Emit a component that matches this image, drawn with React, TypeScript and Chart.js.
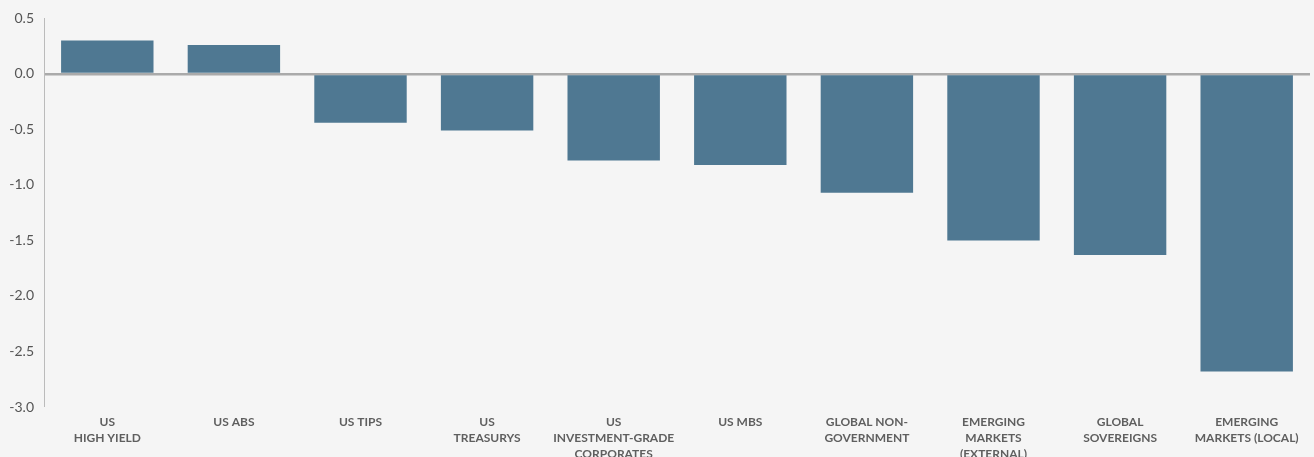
import React, { useEffect, useRef } from "react";
import { Chart, registerables } from "chart.js";

Chart.register(...registerables);

const categories: string[][] = [
  ["US", "HIGH YIELD"],
  ["US ABS"],
  ["US TIPS"],
  ["US", "TREASURYS"],
  ["US", "INVESTMENT-GRADE", "CORPORATES"],
  ["US MBS"],
  ["GLOBAL NON-", "GOVERNMENT"],
  ["EMERGING", "MARKETS", "(EXTERNAL)"],
  ["GLOBAL", "SOVEREIGNS"],
  ["EMERGING", "MARKETS (LOCAL)"],
];

const values: number[] = [0.3, 0.26, -0.44, -0.51, -0.78, -0.82, -1.07, -1.5, -1.63, -2.68];

const yMin = -3.0;
const yMax = 0.5;
const yStep = 0.5;

export default function App() {
  const ref = useRef<HTMLCanvasElement | null>(null);

  useEffect(() => {
    if (!ref.current) return;
    const chart = new Chart(ref.current, {
      type: "bar",
      data: {
        labels: categories,
        datasets: [
          {
            data: values,
            backgroundColor: "#4f7892",
            borderWidth: 0,
            barPercentage: 0.73,
            categoryPercentage: 1,
          },
        ],
      },
      options: {
        animation: false,
        responsive: false,
        maintainAspectRatio: false,
        layout: { padding: { top: 18, right: 4, left: 0, bottom: 0 } },
        plugins: {
          legend: { display: false },
          tooltip: { enabled: false },
        },
        scales: {
          x: {
            grid: { display: false, drawTicks: false },
            border: { display: false },
            ticks: {
              color: "#5f5f5f",
              font: { family: "Lato", size: 12, weight: "bold", lineHeight: 1.33 },
              padding: 7,
              maxRotation: 0,
              autoSkip: false,
            },
            afterFit: (scale: any) => {
              scale.height = 50;
            },
          },
          y: {
            min: yMin,
            max: yMax,
            ticks: {
              stepSize: yStep,
              color: "#555",
              font: { family: "Lato", size: 14 },
              padding: 10,
              callback: (v: any) => Number(v).toFixed(1),
            },
            grid: {
              drawTicks: false,
              lineWidth: (ctx: any) => (ctx.tick && Math.abs(ctx.tick.value) < 1e-9 ? 2.5 : 0),
              color: (ctx: any) => (ctx.tick && Math.abs(ctx.tick.value) < 1e-9 ? "#aaaaaa" : "rgba(0,0,0,0)"),
            },
            border: { display: true, color: "#bbbbbb", width: 1 },
            afterFit: (scale: any) => {
              scale.width = 44;
            },
          },
        },
      },
    });
    return () => chart.destroy();
  }, []);

  return (
    <div style={{ position: "fixed", left: 0, top: 0, width: 1314, height: 457, background: "#f5f5f5" }}>
      <canvas ref={ref} width={1314} height={457} style={{ display: "block", width: 1314, height: 457 }} />
    </div>
  );
}
